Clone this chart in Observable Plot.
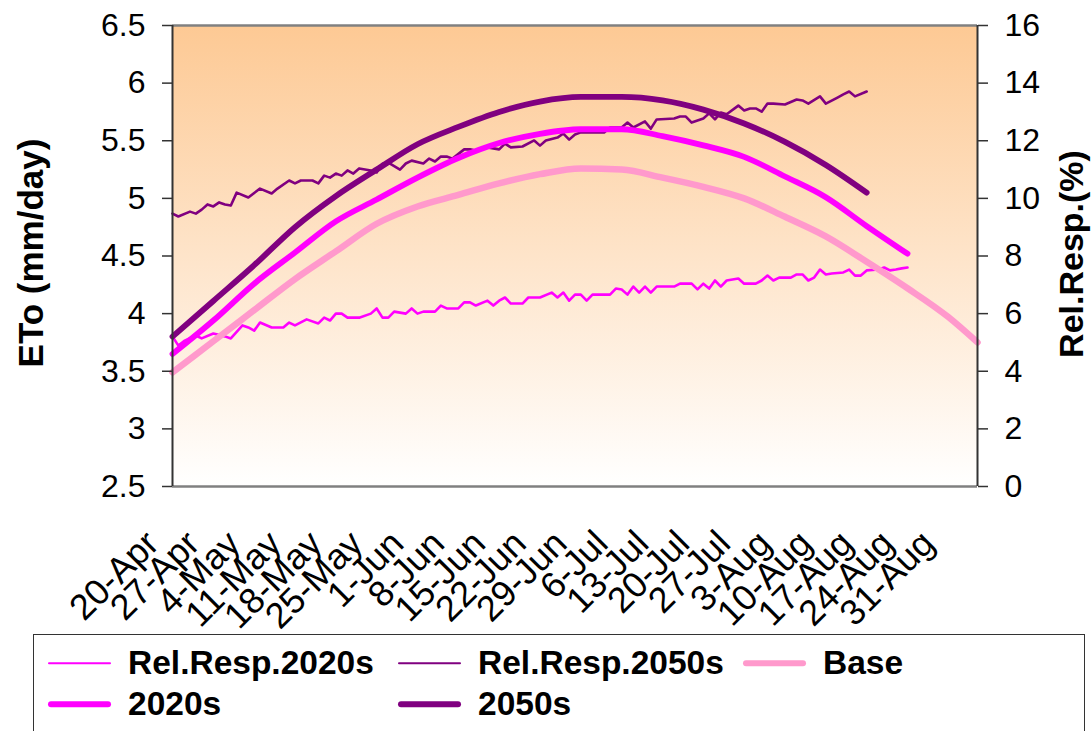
<!DOCTYPE html>
<html><head><meta charset="utf-8">
<script src="https://cdn.jsdelivr.net/npm/d3@7"></script>
<script src="https://cdn.jsdelivr.net/npm/@observablehq/plot@0.6"></script>
<style>
body{margin:0;background:#fff;font-family:"Liberation Sans",Arial,sans-serif;}
#chart{position:relative;width:1091px;height:632px;}
#legend{position:absolute;left:33px;top:634px;width:1052px;height:130px;border:1.5px solid #333;box-sizing:border-box;background:#fff;}
.item{position:absolute;display:flex;align-items:center;font-weight:bold;font-size:33.5px;line-height:1;color:#000;transform:translateY(-50%);white-space:nowrap;}
.sw{width:63px;margin-right:17px;border-radius:3px;}
</style></head><body>
<div id="chart"></div>
<div id="legend"></div>
<script>
// ---- Data (day index from 20-Apr) ----
const xTickDays = [0,7,14,21,28,35,42,49,56,63,70,77,84,91,98,105,112,119,126,133];
const xLabels = ["20-Apr","27-Apr","4-May","11-May","18-May","25-May","1-Jun","8-Jun","15-Jun","22-Jun","29-Jun","6-Jul","13-Jul","20-Jul","27-Jul","3-Aug","10-Aug","17-Aug","24-Aug","31-Aug"];
const leftTicks = [2.5,3,3.5,4,4.5,5,5.5,6,6.5];
const rightTicks = [0,2,4,6,8,10,12,14,16];

const baseDays = [0,7,14,21,28,35,42,49,56,63,70,77,84,91,98,105,112,119,126,133,138];
const baseVals = [3.49,3.76,4.03,4.30,4.54,4.78,4.93,5.03,5.13,5.21,5.26,5.25,5.18,5.10,5.00,4.84,4.67,4.45,4.22,3.97,3.75];

const e2020Days = [0,7,14,21,28,35,42,49,56,63,70,77,84,91,98,105,112,119,126];
const e2020Vals = [3.65,3.94,4.26,4.53,4.80,4.99,5.18,5.35,5.48,5.56,5.60,5.60,5.54,5.46,5.36,5.19,5.01,4.76,4.52];

const e2050Days = [0,7,14,21,28,35,42,49,56,63,70,77,84,91,98,105,112,119];
const e2050Vals = [3.80,4.11,4.42,4.75,5.02,5.25,5.47,5.62,5.75,5.84,5.88,5.88,5.85,5.77,5.65,5.49,5.29,5.05];

const rel2020Days = [0,1,2,4,5,7,9,10,12,13,
  14,15,17,19,20,21,23,25,26,27,
  28,29,30,32,34,35,36,37,38,40,
  41,42,43,45,46,47,49,50,51,52,
  54,55,56,57,58,60,61,63,65,66,
  67,68,69,70,71,72,73,75,76,77,
  78,79,80,81,82,83,86,87,89,90,
  91,92,93,94,95,97,98,100,101,102,
  103,104,106,107,108,109,110,111,112,113,
  115,116,117,118,119,121,122,123,124,125,126];
const rel2020Vals = [5.21,4.89,5.05,5.24,5.14,5.31,5.21,5.14,5.59,5.52,
  5.41,5.69,5.52,5.52,5.69,5.59,5.80,5.66,5.86,5.76,
  6.00,6.00,5.86,5.86,6.00,6.18,5.86,5.86,6.07,6.00,
  6.18,6.00,6.07,6.07,6.28,6.18,6.18,6.39,6.39,6.28,
  6.45,6.28,6.45,6.56,6.35,6.35,6.56,6.56,6.73,6.56,
  6.73,6.45,6.66,6.66,6.45,6.66,6.66,6.66,6.87,6.84,
  6.66,6.94,6.73,6.94,6.73,6.94,6.94,7.04,7.04,6.84,
  7.04,6.87,7.15,6.94,7.15,7.22,7.04,7.04,7.15,7.32,
  7.15,7.25,7.25,7.36,7.36,7.15,7.25,7.53,7.36,7.39,
  7.43,7.53,7.32,7.32,7.50,7.53,7.60,7.50,7.53,7.57,7.60];

const rel2050Days = [0,1,3,4,5,6,7,8,9,10,
  11,13,15,17,18,20,21,22,24,25,
  26,27,28,29,30,31,32,34,35,36,
  37,39,40,41,43,44,45,46,47,48,
  50,51,52,54,56,57,58,60,62,63,
  64,66,67,68,69,70,74,75,77,78,
  79,81,82,83,86,87,88,89,91,92,
  93,94,95,97,98,99,100,101,102,103,
  105,107,108,109,111,112,114,115,116,117,119];
const rel2050Vals = [9.47,9.37,9.54,9.47,9.61,9.79,9.72,9.86,9.79,9.75,
  10.20,10.03,10.34,10.17,10.34,10.62,10.52,10.62,10.62,10.52,
  10.79,10.72,10.86,10.79,10.97,10.86,11.04,10.97,10.90,11.20,
  11.24,11.00,11.21,11.31,11.21,11.38,11.28,11.45,11.45,11.38,
  11.70,11.70,11.66,11.77,11.70,11.90,11.77,11.80,12.01,11.83,
  12.01,12.11,12.25,12.04,12.22,12.29,12.29,12.46,12.46,12.63,
  12.46,12.67,12.42,12.74,12.77,12.84,12.84,12.63,12.77,12.95,
  12.74,12.98,12.92,13.22,13.05,13.12,13.12,13.01,13.29,13.29,
  13.26,13.43,13.40,13.29,13.54,13.29,13.50,13.61,13.71,13.54,13.71];

const seriesNames = ["Rel.Resp.2020s","Rel.Resp.2050s","Base","2020s","2050s"];
const seriesColors = ["#FF00FF","#800080","#FF99CC","#FF00FF","#800080"];

// ---- build tables ----
const toLeft = r => 2.5 + r * 4 / 16;   // secondary (%) axis mapped onto ETo scale
const tbl = (days, vals, f = v => v) => days.map((d, i) => ({d, v: f(vals[i])}));
const baseT = tbl(baseDays, baseVals);
const e2020T = tbl(e2020Days, e2020Vals);
const e2050T = tbl(e2050Days, e2050Vals);
const r2020T = tbl(rel2020Days, rel2020Vals, toLeft);
const r2050T = tbl(rel2050Days, rel2050Vals, toLeft);

const bgMark = (index, scales, values, dims) => {
  const g = d3.create("svg:g");
  const grad = g.append("defs").append("linearGradient").attr("id", "bgGrad")
    .attr("x1", 0).attr("y1", 0).attr("x2", 0).attr("y2", 1);
  grad.append("stop").attr("offset", "0%").attr("stop-color", "#FDC994");
  grad.append("stop").attr("offset", "100%").attr("stop-color", "#FFFFFF");
  g.append("rect")
    .attr("x", dims.marginLeft).attr("y", dims.marginTop)
    .attr("width", dims.width - dims.marginLeft - dims.marginRight)
    .attr("height", dims.height - dims.marginTop - dims.marginBottom)
    .attr("fill", "url(#bgGrad)");
  return g.node();
};

const font = "Liberation Sans, Arial, sans-serif";
const thin = 2.6, thick = 5.8;
const chart = Plot.plot({
  width: 1091, height: 632,
  marginLeft: 172, marginRight: 114, marginTop: 25, marginBottom: 146,
  style: {fontFamily: font, background: "transparent", overflow: "visible", color: "#000"},
  x: {domain: [0, 138], axis: null},
  y: {domain: [2.5, 6.5], axis: null},
  marks: [
    bgMark,
    Plot.line(r2020T, {x: "d", y: "v", stroke: seriesColors[0], strokeWidth: thin, strokeLinejoin: "round"}),
    Plot.line(r2050T, {x: "d", y: "v", stroke: seriesColors[1], strokeWidth: thin, strokeLinejoin: "round"}),
    Plot.line(baseT, {x: "d", y: "v", stroke: seriesColors[2], strokeWidth: 6.5, curve: "monotone-x", strokeLinecap: "round"}),
    Plot.line(e2020T, {x: "d", y: "v", stroke: seriesColors[3], strokeWidth: thick, curve: "monotone-x", strokeLinecap: "round"}),
    Plot.line(e2050T, {x: "d", y: "v", stroke: seriesColors[4], strokeWidth: thick, curve: "monotone-x", strokeLinecap: "round"}),
    Plot.ruleY([6.5], {stroke: "#808080", strokeWidth: 2.5}),
    Plot.ruleY([2.5], {stroke: "#808080", strokeWidth: 2.5}),
    Plot.ruleX([0], {stroke: "#333", strokeWidth: 2}),
    Plot.ruleX([138], {stroke: "#333", strokeWidth: 2}),
    Plot.axisY(leftTicks, {anchor: "left", tickSize: 10, tickPadding: 17, fontSize: 32, stroke: "#333", strokeWidth: 1.5, tickFormat: d => String(d), label: null}),
    Plot.axisY(rightTicks.map(toLeft), {anchor: "right", tickSize: 10, tickPadding: 17, fontSize: 32, stroke: "#333", strokeWidth: 1.5, tickFormat: v => String(Math.round((v - 2.5) * 4)), label: null}),
    Plot.text(xTickDays, {x: d => d, y: () => 2.5, text: (d, i) => xLabels[i], rotate: -45, textAnchor: "end", dx: -20, dy: 51, fontSize: 36, fill: "#000"}),
    Plot.text(["ETo (mm/day)"], {text: d => d, frameAnchor: "left", textAnchor: "middle", rotate: -90, dx: -141, dy: -3, fontWeight: "bold", fontSize: 35, fill: "#000"}),
    Plot.text(["Rel.Resp.(%)"], {text: d => d, frameAnchor: "right", textAnchor: "middle", rotate: -90, dx: 95, dy: -2, fontWeight: "bold", fontSize: 34, fill: "#000"})
  ]
});
document.getElementById("chart").appendChild(chart);

// ---- legend ----
const legend = document.getElementById("legend");
const legW = [2.5, 2.5, 6, 5.5, 5.5];
const legPos = [[14, 28], [364, 28], [709, 28], [14, 69], [364, 69]];
seriesNames.forEach((name, i) => {
  const it = document.createElement("div");
  it.className = "item";
  it.style.left = legPos[i][0] + "px";
  it.style.top = legPos[i][1] + "px";
  const sw = document.createElement("span");
  sw.className = "sw";
  sw.style.height = legW[i] + "px";
  sw.style.background = seriesColors[i];
  const tx = document.createElement("span");
  tx.textContent = name;
  it.appendChild(sw); it.appendChild(tx);
  legend.appendChild(it);
});
</script>
</body></html>
